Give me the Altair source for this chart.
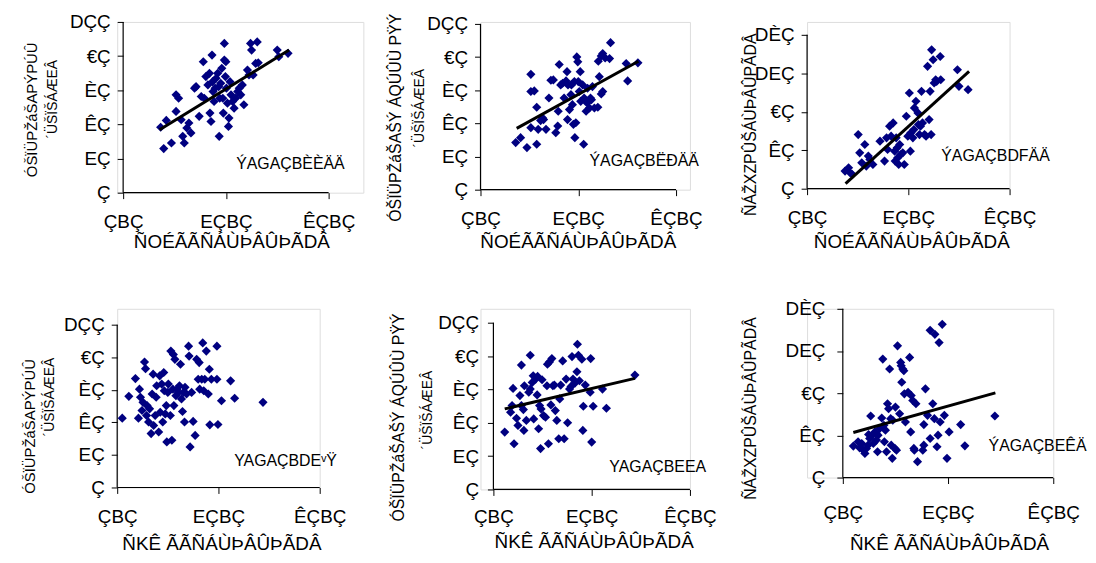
import altair as alt
import pandas as pd

# ---------------- data ----------------
x_tick_values = [0, 20, 40]
x_tick_labels = ["ÇBÇ", "EÇBÇ", "ÊÇBÇ"]
y100_tick_values = [0, 20, 40, 60, 80, 100]
y100_tick_labels = ["Ç", "EÇ", "ÊÇ", "ÈÇ", "€Ç", "DÇÇ"]
y160_tick_values = [0, 40, 80, 120, 160]
y160_tick_labels = ["Ç", "ÊÇ", "€Ç", "DEÇ", "DÈÇ"]

x_title_top = "ÑOÉÃÃÑÁÙÞÂÛÞÃDÂ"
x_title_bottom = "ÑKÊ ÃÃÑÁÙÞÂÛÞÃDÂ"
y_title_a = ["ÓŠÏÜPŽáŠAPÝPÚÛ", "´ÜŠÏŠÁÆEÂ"]
y_title_b = ["ÓŠÏÜPŽáŠAŠÝ ÁQÚÛÙ PŸÝ", "´ÜŠÏŠÁÆEÂ"]
y_title_c = ["ÑÁŽXZPÛŠÁÙÞÂÛPÃDÂ"]

notes = ["ÝAGAÇBÈÈÄÄ", "ÝAGAÇBËÐÄÄ", "ÝAGAÇBDFÄÄ", "YAGAÇBDEᵛŸ", "YAGAÇBEEA", "ÝAGAÇBEÊÄ"]

p1_x = [7.3, 8.4, 7.9, 9.4, 10.3, 10.3, 10.8, 11.3, 11.6, 11.9, 12.4, 12.8, 13.2, 13.9, 14.2, 14.8, 15.2, 15.6, 15.8, 16.1, 16.5, 16.8, 16.9, 17.1, 17.3, 17.4, 17.5, 17.7, 17.9, 18.1, 18.4, 18.6, 18.7, 18.8, 19.0, 19.2, 19.4, 19.5, 19.7, 19.7, 19.9, 20.0, 20.1, 20.3, 20.5, 20.6, 20.8, 21.0, 21.3, 21.6, 21.9, 22.3, 22.6, 22.9, 23.2, 23.5, 24.2, 24.5, 24.8, 25.0, 25.3, 25.8, 26.1, 26.3, 30.0, 30.3, 32.1]
p1_y = [38.3, 42.3, 25.8, 29.1, 47.6, 57.3, 55.3, 42.7, 33.0, 29.1, 37.9, 40.8, 35.0, 61.2, 62.1, 44.7, 56.3, 76.7, 55.3, 68.0, 63.1, 69.9, 46.6, 41.7, 80.6, 65.0, 59.2, 53.4, 61.2, 67.0, 69.9, 62.1, 33.0, 55.3, 64.1, 72.8, 55.3, 46.6, 87.4, 77.7, 68.0, 76.7, 61.2, 52.4, 38.8, 43.7, 65.0, 57.3, 53.4, 49.5, 55.3, 59.2, 61.2, 57.3, 63.1, 51.5, 71.8, 68.9, 87.4, 83.5, 68.9, 75.7, 88.3, 76.1, 83.5, 79.6, 81.6]

p2_x = [7.2, 8.2, 9.5, 10.3, 10.3, 11.0, 10.3, 11.5, 11.5, 11.8, 12.3, 12.7, 12.9, 13.4, 14.0, 14.4, 14.9, 15.4, 15.8, 15.9, 16.1, 16.4, 16.8, 17.1, 17.5, 17.7, 17.8, 17.9, 18.2, 18.5, 18.6, 18.8, 19.0, 19.2, 19.3, 19.5, 19.7, 19.9, 20.0, 20.2, 20.4, 20.5, 20.9, 21.1, 21.2, 21.6, 21.8, 21.9, 22.3, 22.5, 22.7, 22.9, 23.3, 24.0, 24.3, 24.7, 25.0, 24.1, 24.7, 25.0, 25.5, 26.4, 26.6, 29.8, 30.1, 32.2]
p2_y = [28.4, 31.4, 25.4, 37.4, 59.2, 59.6, 69.6, 27.4, 49.7, 36.4, 41.7, 43.3, 42.3, 36.4, 55.3, 66.0, 66.2, 34.4, 38.4, 47.3, 75.5, 63.2, 64.2, 55.3, 65.6, 71.2, 42.3, 63.2, 48.3, 57.3, 63.2, 51.3, 39.4, 65.2, 31.4, 40.4, 80.1, 77.1, 65.2, 59.2, 71.2, 53.3, 63.2, 27.4, 55.3, 47.3, 52.3, 61.2, 49.3, 55.3, 54.3, 62.2, 49.3, 49.7, 68.2, 57.7, 59.2, 77.5, 80.7, 82.1, 79.5, 79.1, 88.7, 76.1, 65.6, 76.5]

p3_x = [7.5, 8.2, 8.5, 8.9, 10.1, 10.4, 10.8, 11.4, 11.7, 12.1, 12.4, 13.0, 14.4, 15.3, 15.7, 15.9, 16.3, 16.6, 17.0, 17.3, 17.4, 17.6, 17.8, 17.9, 18.1, 18.3, 18.5, 18.9, 19.2, 19.6, 19.9, 20.2, 20.4, 20.5, 20.9, 21.1, 21.2, 21.5, 21.9, 22.0, 22.2, 22.4, 22.6, 22.8, 23.2, 23.5, 23.8, 24.1, 24.3, 24.5, 24.6, 24.9, 25.1, 25.4, 25.6, 26.3, 26.4, 29.7, 30.0, 31.8]
p3_y = [18.3, 21.8, 16.6, 14.9, 56.3, 37.3, 27.0, 46.0, 23.5, 33.9, 30.4, 25.2, 49.4, 28.7, 52.9, 40.8, 65.0, 54.6, 68.4, 39.0, 28.7, 52.9, 42.5, 32.1, 25.2, 46.0, 35.6, 37.3, 25.2, 75.3, 54.6, 99.5, 39.0, 58.1, 52.9, 61.5, 84.0, 90.9, 78.8, 66.7, 56.3, 65.0, 101.2, 68.4, 56.3, 54.6, 127.2, 71.9, 101.2, 56.3, 144.4, 134.1, 109.9, 113.3, 111.6, 137.5, 113.3, 123.7, 106.4, 103.0]

p4_x = [1.0, 2.3, 3.6, 4.2, 4.4, 4.6, 4.9, 5.1, 5.4, 5.6, 5.8, 5.9, 6.2, 6.4, 6.7, 6.9, 7.1, 7.2, 7.5, 7.7, 7.8, 8.2, 8.4, 8.5, 8.8, 9.0, 9.2, 9.3, 9.5, 9.7, 9.8, 10.0, 10.1, 10.5, 10.6, 10.8, 11.0, 11.1, 11.2, 11.4, 11.6, 11.8, 12.1, 12.3, 12.5, 12.7, 12.9, 13.1, 13.3, 13.4, 13.7, 14.1, 14.2, 14.4, 14.7, 15.0, 15.4, 15.7, 16.0, 16.2, 16.3, 16.7, 16.9, 17.1, 17.3, 17.6, 18.0, 18.2, 18.3, 18.6, 19.7, 19.7, 19.9, 20.6, 22.4, 23.2, 28.8]
p4_y = [42.6, 56.0, 66.9, 42.6, 60.4, 55.4, 47.3, 52.3, 77.1, 73.0, 44.2, 50.3, 40.2, 48.3, 33.1, 57.4, 69.6, 38.1, 44.2, 55.4, 62.5, 34.1, 68.6, 46.2, 63.5, 40.2, 70.6, 59.4, 45.2, 50.3, 28.0, 58.4, 63.5, 44.2, 83.8, 29.0, 60.4, 81.7, 50.3, 78.7, 56.4, 60.4, 58.4, 62.5, 75.7, 54.4, 46.7, 58.4, 40.2, 61.5, 57.4, 86.8, 80.7, 24.9, 58.4, 40.6, 32.0, 78.7, 66.5, 76.7, 60.4, 66.5, 88.8, 59.4, 66.5, 83.8, 57.4, 72.6, 38.5, 66.5, 86.8, 66.5, 38.7, 53.3, 65.5, 54.8, 52.3]

p5_x = [2.3, 3.5, 3.8, 4.0, 4.2, 4.7, 5.0, 5.4, 5.7, 5.7, 6.1, 6.2, 6.3, 6.7, 7.2, 7.5, 7.5, 7.9, 8.1, 8.2, 8.6, 8.9, 9.0, 9.2, 9.4, 9.6, 9.7, 9.9, 10.2, 10.6, 10.9, 11.0, 11.2, 11.4, 11.7, 11.9, 12.1, 12.4, 12.6, 12.9, 13.3, 13.5, 13.7, 14.1, 14.4, 14.8, 15.1, 15.5, 15.8, 16.0, 16.2, 16.6, 17.0, 17.1, 17.3, 17.5, 18.0, 18.2, 18.3, 18.7, 19.7, 19.8, 20.0, 20.3, 22.2, 23.0, 28.8]
p5_y = [34.4, 46.3, 50.3, 60.6, 27.4, 42.7, 38.4, 56.3, 50.3, 74.6, 47.9, 35.4, 62.2, 41.4, 58.3, 80.5, 60.2, 64.2, 68.2, 42.3, 66.2, 56.7, 67.8, 36.4, 50.3, 24.5, 48.3, 65.8, 44.3, 43.3, 62.2, 75.1, 27.4, 76.5, 50.7, 78.5, 62.2, 62.6, 47.3, 41.4, 30.4, 54.3, 62.6, 77.1, 30.4, 66.2, 40.0, 60.2, 61.8, 79.7, 66.2, 63.8, 70.6, 87.1, 80.5, 65.2, 78.1, 35.4, 49.9, 62.6, 58.3, 78.5, 28.4, 49.9, 60.2, 48.7, 68.6]

p6_x = [2.0, 2.9, 3.2, 3.6, 3.9, 4.2, 4.5, 4.8, 4.9, 5.1, 5.3, 5.6, 5.8, 6.1, 6.4, 6.6, 6.7, 7.0, 7.4, 7.6, 7.8, 7.9, 8.1, 8.3, 8.5, 8.7, 8.9, 9.1, 9.2, 9.4, 9.5, 9.9, 10.0, 10.2, 10.4, 10.8, 11.0, 11.1, 11.2, 11.4, 11.6, 11.7, 11.9, 12.4, 12.7, 12.9, 13.0, 13.3, 13.5, 13.6, 13.9, 14.2, 15.2, 15.4, 15.4, 15.7, 16.1, 16.6, 16.6, 17.1, 17.4, 17.5, 17.9, 18.1, 18.3, 18.5, 18.9, 19.3, 19.8, 20.2, 22.4, 23.2, 28.9]
p6_y = [29.8, 33.9, 28.2, 32.3, 26.0, 22.9, 27.6, 30.7, 40.8, 37.0, 58.4, 40.2, 32.3, 43.3, 35.5, 24.5, 40.2, 46.4, 56.5, 112.3, 49.6, 33.9, 44.9, 24.5, 70.0, 65.3, 102.9, 55.8, 30.7, 18.2, 54.3, 27.6, 66.8, 26.0, 124.9, 60.5, 109.2, 106.0, 90.4, 102.9, 101.3, 79.4, 52.7, 80.9, 113.9, 43.3, 77.8, 73.1, 27.6, 26.0, 70.0, 15.1, 26.0, 30.7, 50.2, 84.1, 59.0, 37.0, 139.6, 70.0, 55.8, 135.8, 29.2, 40.2, 128.0, 52.7, 145.3, 59.0, 18.2, 43.3, 50.2, 30.1, 58.4]

trend1_x = [7.1, 32.3]; trend1_y = [36.9, 83.5]
trend2_x = [7.4, 32.3]; trend2_y = [37.0, 77.5]
trend3_x = [7.6, 32.0]; trend3_y = [5.2, 122.0]
trend5_x = [2.3, 28.8]; trend5_y = [48.3, 66.6]
trend6_x = [2.0, 29.0]; trend6_y = [42.7, 80.3]

# ---------------- styling ----------------
FONT = "Liberation Sans, Arial, sans-serif"
MARK = "#000080"


def label_expr(values, labels):
    expr = "''"
    for v, l in reversed(list(zip(values, labels))):
        expr = f"datum.value == {v} ? '{l}' : ({expr})"
    return expr


def panel(xs, ys, tx, ty, note, note_xy, yvals, ylabs, xtitle, ytitle, lay):
    W, H = lay["W"], lay["H"]
    pxx, pxy = lay["pxx"], lay["pxy"]
    e = lay.get("e", 0)
    xdom = [-e / pxx, (W - e) / pxx]
    ydom = [0, H / pxy]
    xs_ = alt.Scale(domain=xdom, nice=False, zero=False)
    ys_ = alt.Scale(domain=ydom, nice=False, zero=False)
    xaxis = alt.Axis(values=x_tick_values, labelExpr=label_expr(x_tick_values, x_tick_labels),
                     domain=False, grid=False, tickSize=6, tickColor="black", tickWidth=1,
                     labelFont=FONT, labelFontSize=19, labelColor="black", labelPadding=lay["xlp"],
                     title=xtitle, titleFont=FONT, titleFontSize=19, titleFontWeight="normal",
                     titleColor="black", titleX=lay["xtx"], titleY=lay["xty"],
                     titleAlign="center", titleBaseline="middle", labelFlush=False)
    yaxis = alt.Axis(values=yvals, labelExpr=label_expr(yvals, ylabs),
                     domain=False, grid=False, tickSize=6, tickColor="black", tickWidth=1,
                     offset=-e, labelFont=FONT, labelFontSize=19, labelColor="black",
                     labelPadding=lay["ylp"], title=ytitle[0], titleFont=FONT,
                     titleFontSize=lay.get("ytfs", 16), titleFontWeight="normal", titleColor="black",
                     titleAngle=270, titleX=lay["ytx"], titleY=lay["yty"], titleAlign="center",
                     titleBaseline="middle", labelFlush=False)
    X = alt.X("x:Q", scale=xs_, axis=xaxis)
    Y = alt.Y("y:Q", scale=ys_, axis=yaxis)
    pts = pd.DataFrame({"x": xs, "y": ys})
    layers = [
        alt.Chart(pts).mark_point(shape="diamond", filled=True, size=85, color=MARK, opacity=1)
        .encode(x=X, y=Y)
    ]
    frame = pd.DataFrame({"x": [0, 0], "x2": [40, 0], "y": [0, 0], "y2": [0, yvals[-1]]})
    layers.append(
        alt.Chart(frame).mark_rule(color="black", strokeWidth=1.2)
        .encode(x=X, x2="x2:Q", y=Y, y2="y2:Q"))
    if tx is not None:
        tr = pd.DataFrame({"x": tx, "y": ty})
        layers.append(
            alt.Chart(tr).mark_line(color="black", strokeWidth=3).encode(x=X, y=Y))
    nd = pd.DataFrame({"x": [note_xy[0]], "y": [note_xy[1]], "t": [note]})
    layers.append(
        alt.Chart(nd).mark_text(align="left", baseline="middle", font=FONT, fontSize=16, color="black")
        .encode(x=X, y=Y, text="t:N"))
    if len(ytitle) > 1:
        # second line of the y-axis title, set beside the first one
        l2 = pd.DataFrame({"x": [lay["l2"][0]], "y": [lay["l2"][1]], "t": [ytitle[1]]})
        layers.append(
            alt.Chart(l2).mark_text(align="center", baseline="middle", angle=270, font=FONT,
                                    fontSize=14, color="black")
            .encode(x=X, y=Y, text="t:N"))
    return alt.layer(*layers).properties(width=W, height=H)


# cell layout (pixels): W/H cell size, pxx/pxy pixels per data unit, e = left inset of the y axis
L1 = dict(W=248, H=172, pxx=207 / 40, pxy=172 / 100, e=6, xlp=14, ylp=7, xtx=115, xty=49,
          ytx=-92, yty=88, ytfs=15, l2=(-13.6, 54.7))
L2 = dict(W=211, H=169, pxx=197 / 40, pxy=167 / 100, e=0, xlp=14, ylp=7, xtx=98, xty=52,
          ytx=-86, yty=96, ytfs=16, l2=(-12.4, 49.1))
L3 = dict(W=204, H=168, pxx=204 / 40, pxy=155 / 160, e=0, xlp=14, ylp=7, xtx=105, xty=53,
          ytx=-57, yty=103)
L4 = dict(W=204, H=180, pxx=204 / 40, pxy=164 / 100, e=0, xlp=14, ylp=7, xtx=105, xty=56,
          ytx=-88, yty=118, ytfs=15, l2=(-13.3, 55.5))
L5 = dict(W=211, H=182, pxx=198 / 40, pxy=168 / 100, e=13, xlp=12, ylp=9, xtx=114, xty=52,
          ytx=-96, yty=109, ytfs=16, l2=(-13.3, 47.6))
L6 = dict(W=248, H=170, pxx=212 / 40, pxy=170 / 160, e=36, xlp=20, ylp=12, xtx=143, xty=66,
          ytx=-93, yty=100)

c1 = panel(p1_x, p1_y, trend1_x, trend1_y, notes[0], (22.0, 16.9), y100_tick_values, y100_tick_labels, x_title_top, y_title_a, L1)
c2 = panel(p2_x, p2_y, trend2_x, trend2_y, notes[1], (22.3, 17.4), y100_tick_values, y100_tick_labels, x_title_top, y_title_b, L2)
c3 = panel(p3_x, p3_y, trend3_x, trend3_y, notes[2], (26.5, 34.1), y160_tick_values, y160_tick_labels, x_title_top, y_title_c, L3)
c4 = panel(p4_x, p4_y, None, None, notes[3], (23.1, 16.5), y100_tick_values, y100_tick_labels, x_title_bottom, y_title_a, L4)
c5 = panel(p5_x, p5_y, trend5_x, trend5_y, notes[4], (23.6, 13.7), y100_tick_values, y100_tick_labels, x_title_bottom, y_title_b, L5)
c6 = panel(p6_x, p6_y, trend6_x, trend6_y, notes[5], (27.7, 30.1), y160_tick_values, y160_tick_labels, x_title_bottom, y_title_c, L6)

chart = alt.concat(c1, c2, c3, c4, c5, c6, columns=3, spacing={"row": 117, "column": 118},
                   bounds="flush").properties(
    padding={"left": 14, "top": 2, "right": 0, "bottom": 0}
).configure_view(strokeWidth=0).configure(background="white")

chart.save("out.html", embed_options={"renderer": "svg", "actions": False})
